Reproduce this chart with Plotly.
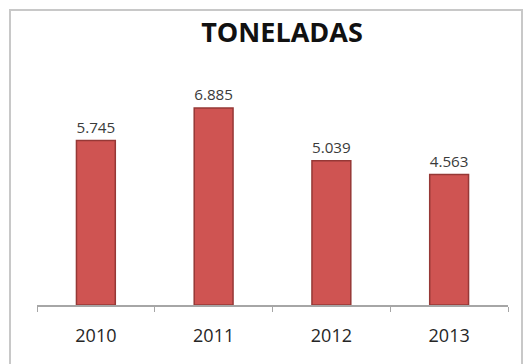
import plotly.graph_objects as go

# Annual tonnage
years = ["2010", "2011", "2012", "2013"]
tonnes = [5.745, 6.885, 5.039, 4.563]
value_labels = ["5.745", "6.885", "5.039", "4.563"]
title_text = "TONELADAS"

W, H = 525, 364
ml, mr, mt, mb = 37, 17, 76, 59
plot_w = W - ml - mr
plot_h = H - mt - mb


def px_to_paper_x(px):
    return (px - ml) / plot_w


def px_to_paper_y(py):
    return (H - mb - py) / plot_h


fig = go.Figure()
fig.add_trace(go.Bar(
    x=years,
    y=tonnes,
    text=value_labels,
    textposition="outside",
    cliponaxis=False,
    textfont=dict(family="Open Sans", size=17, color="#3A3A3A"),
    marker=dict(color="#CF5452", line=dict(color="#963836", width=1.5)),
    width=0.33,
    hoverinfo="x+y",
))

# outer chart frame
fig.add_shape(
    type="rect", xref="paper", yref="paper",
    x0=px_to_paper_x(10), x1=px_to_paper_x(522),
    y0=px_to_paper_y(372), y1=px_to_paper_y(10),
    line=dict(color="#C8C8C8", width=2), fillcolor="rgba(0,0,0,0)",
    layer="below",
)

fig.update_layout(
    width=W, height=H,
    margin=dict(l=ml, r=mr, t=mt, b=mb),
    paper_bgcolor="white",
    plot_bgcolor="white",
    showlegend=False,
    title=dict(
        text="<b>" + title_text + "</b>",
        x=px_to_paper_x(282), xref="paper", xanchor="center",
        y=1 - 33 / H, yref="container", yanchor="middle",
        font=dict(family="Open Sans", size=27, color="#111111"),
    ),
    xaxis=dict(
        type="category",
        showline=True, linecolor="#A6A6A6", linewidth=1.5,
        ticks="outside", tickson="boundaries", ticklen=5,
        tickcolor="#A6A6A6", tickwidth=1,
        ticklabelstandoff=14,
        showgrid=False, zeroline=False,
        tickfont=dict(family="Open Sans", size=18, color="#262626"),
        fixedrange=True,
    ),
    yaxis=dict(
        range=[0, 8.0],
        visible=False, showgrid=False, zeroline=False,
        fixedrange=True,
    ),
)

fig.write_html("out.html")
